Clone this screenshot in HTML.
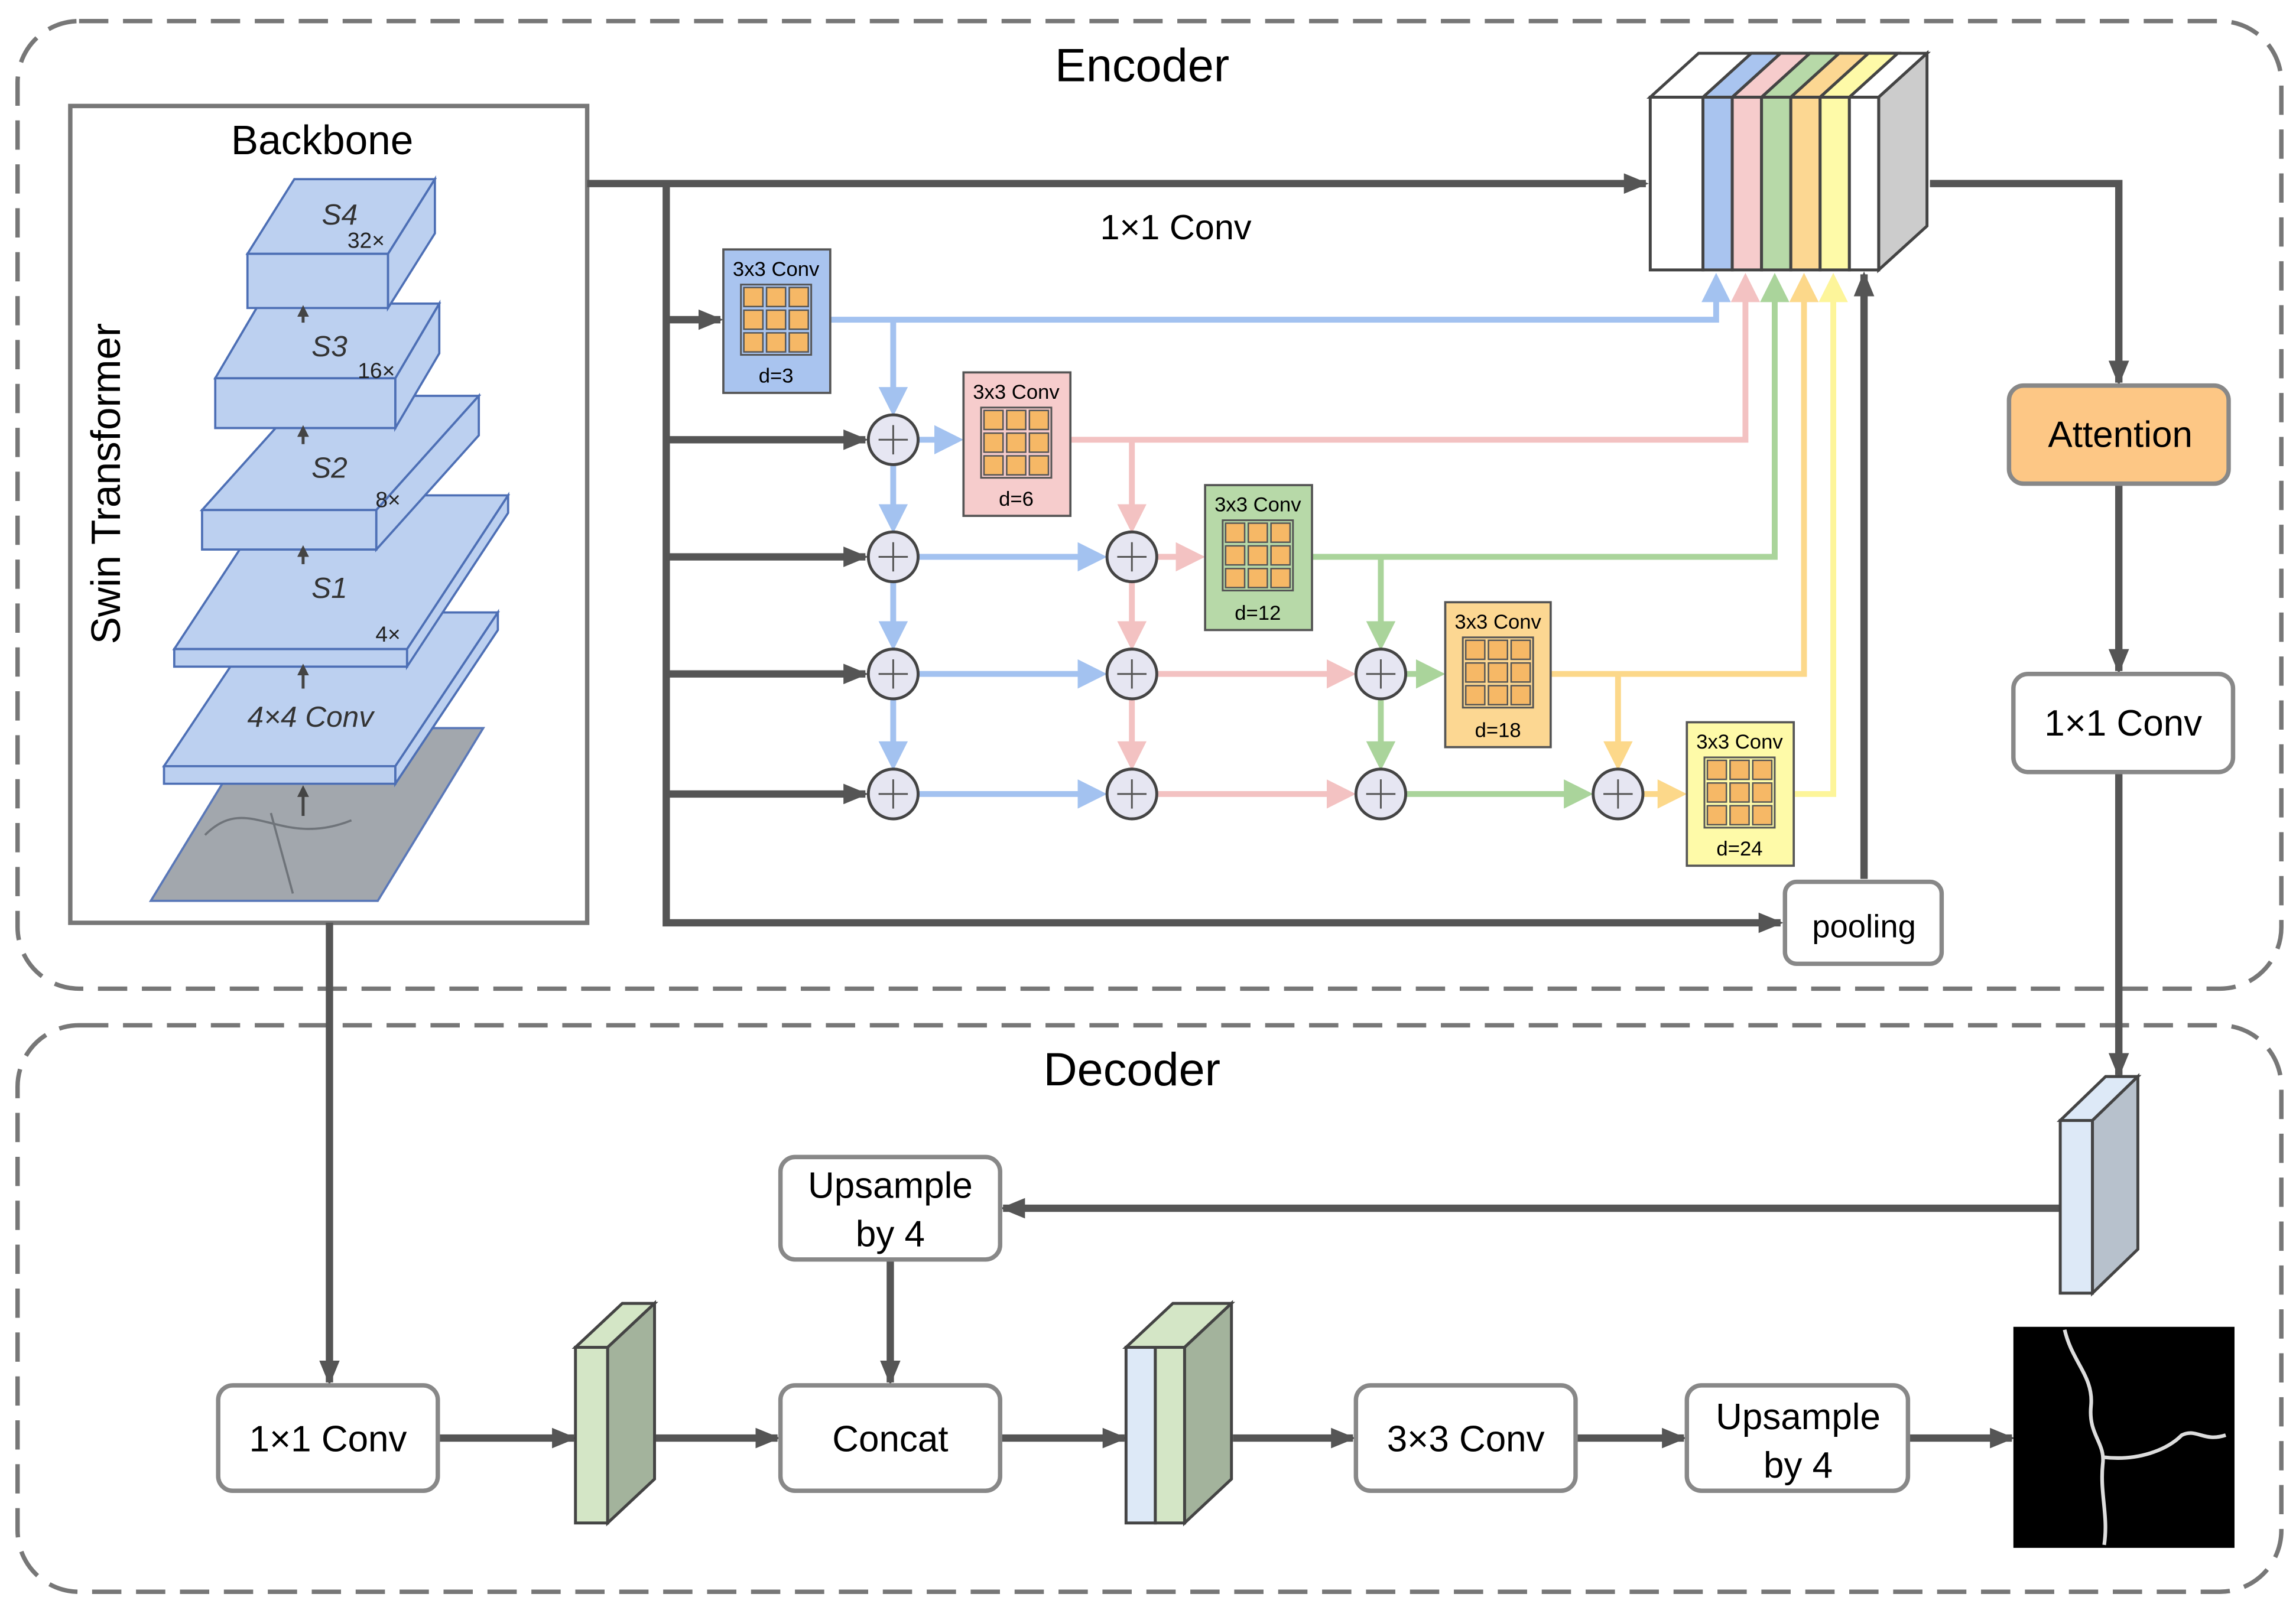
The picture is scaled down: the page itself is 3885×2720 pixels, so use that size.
<!DOCTYPE html>
<html><head><meta charset="utf-8"><style>html,body{margin:0;padding:0;background:#fff}svg{display:block}</style></head>
<body>
<svg width="3885" height="2720" viewBox="0 0 1568 1097" xmlns="http://www.w3.org/2000/svg" font-family="Liberation Sans, Arial, sans-serif">
<defs>
<marker id="ad" markerWidth="17" markerHeight="14" refX="15" refY="7" orient="auto" markerUnits="userSpaceOnUse"><path d="M0,0 L17,7 L0,14 z" fill="#555"/></marker>
<marker id="ab" markerWidth="5" markerHeight="5" refX="4" refY="2.5" orient="auto" markerUnits="strokeWidth"><path d="M0,0 L5,2.5 L0,5 z" fill="#a3c2f0"/></marker>
<marker id="ap" markerWidth="5" markerHeight="5" refX="4" refY="2.5" orient="auto" markerUnits="strokeWidth"><path d="M0,0 L5,2.5 L0,5 z" fill="#f3c2c2"/></marker>
<marker id="ag" markerWidth="5" markerHeight="5" refX="4" refY="2.5" orient="auto" markerUnits="strokeWidth"><path d="M0,0 L5,2.5 L0,5 z" fill="#aad49b"/></marker>
<marker id="ao" markerWidth="5" markerHeight="5" refX="4" refY="2.5" orient="auto" markerUnits="strokeWidth"><path d="M0,0 L5,2.5 L0,5 z" fill="#fcd88a"/></marker>
<marker id="ay" markerWidth="5" markerHeight="5" refX="4" refY="2.5" orient="auto" markerUnits="strokeWidth"><path d="M0,0 L5,2.5 L0,5 z" fill="#fdf59a"/></marker>
<marker id="as" markerWidth="8" markerHeight="8" refX="6" refY="4" orient="auto" markerUnits="userSpaceOnUse"><path d="M0,0 L8,4 L0,8 z" fill="#444"/></marker>
<g id="grid">
<rect x="0" y="0" width="48" height="48" fill="none" stroke="#555" stroke-width="1.2"/>
<g fill="#f6b866" stroke="#555" stroke-width="1">
<rect x="2" y="2" width="13" height="13"/><rect x="17.5" y="2" width="13" height="13"/><rect x="33" y="2" width="13" height="13"/>
<rect x="2" y="17.5" width="13" height="13"/><rect x="17.5" y="17.5" width="13" height="13"/><rect x="33" y="17.5" width="13" height="13"/>
<rect x="2" y="33" width="13" height="13"/><rect x="17.5" y="33" width="13" height="13"/><rect x="33" y="33" width="13" height="13"/>
</g></g>
<g id="circ"><circle cx="0" cy="0" r="17" fill="#e6e6f2" stroke="#444" stroke-width="2"/><path d="M-10,0 H10 M0,-10 V10" stroke="#555" stroke-width="1.2"/></g>
</defs>

<rect x="12" y="14" width="1546" height="661" rx="42" fill="none" stroke="#777" stroke-width="3" stroke-dasharray="20,10"/>
<rect x="12" y="700" width="1546" height="387" rx="42" fill="none" stroke="#777" stroke-width="3" stroke-dasharray="20,10"/>
<text x="780" y="55" font-size="32" text-anchor="middle">Encoder</text>
<text x="773" y="741" font-size="32" text-anchor="middle">Decoder</text>

<rect x="48" y="72" width="353" height="558" fill="#fff" stroke="#777" stroke-width="3"/>
<text x="220" y="105" font-size="28" text-anchor="middle">Backbone</text>
<text transform="translate(82,330) rotate(-90)" font-size="28" text-anchor="middle">Swin Transformer</text>

<polygon points="103,615 258,615 330,497 175,497" fill="#a2a7ad" stroke="#5a78b8" stroke-width="1.5"/>
<path d="M140,570 C170,540 190,580 240,560 M185,555 L200,610" stroke="#6f747a" stroke-width="1.5" fill="none"/>
<g fill="#bcd0f0" stroke="#4d6fb5" stroke-width="1.5">
<polygon points="112,523 270,523 340,418 182,418"/><polygon points="112,523 270,523 270,535 112,535"/><polygon points="270,523 340,418 340,430 270,535"/>
<polygon points="119,443 278,443 347,338 188,338"/><polygon points="119,443 278,443 278,455 119,455"/><polygon points="278,443 347,338 347,350 278,455"/>
<polygon points="138,348 257,348 327,270 208,270"/><polygon points="138,348 257,348 257,375 138,375"/><polygon points="257,348 327,270 327,297 257,375"/>
<polygon points="147,258 270,258 300,207 177,207"/><polygon points="147,258 270,258 270,292 147,292"/><polygon points="270,258 300,207 300,241 270,292"/>
<polygon points="169,173 265,173 297,122 201,122"/><polygon points="169,173 265,173 265,210 169,210"/><polygon points="265,173 297,122 297,159 265,210"/>
</g>
<g font-style="italic" font-size="20" fill="#333" text-anchor="middle">
<text x="212" y="496">4×4 Conv</text><text x="225" y="408">S1</text><text x="225" y="326">S2</text><text x="225" y="243">S3</text><text x="232" y="153">S4</text>
</g>
<g font-size="15" fill="#222" text-anchor="middle"><text x="265" y="438">4×</text><text x="265" y="346">8×</text><text x="257" y="258">16×</text><text x="250" y="169">32×</text></g>
<g stroke="#444" stroke-width="2" marker-end="url(#as)"><line x1="207" y1="557" x2="207" y2="538"/><line x1="207" y1="470" x2="207" y2="455"/><line x1="207" y1="385" x2="207" y2="374"/><line x1="207" y1="303" x2="207" y2="292"/><line x1="207" y1="220" x2="207" y2="210"/></g>

<g stroke="#555" stroke-width="5" fill="none">
<path d="M401,125 H1124" marker-end="url(#ad)"/>
<path d="M455,125 V630 H1216" marker-end="url(#ad)"/>
<path d="M455,218 H492" marker-end="url(#ad)"/>
<path d="M455,300 H591" marker-end="url(#ad)"/>
<path d="M455,380 H591" marker-end="url(#ad)"/>
<path d="M455,460 H591" marker-end="url(#ad)"/>
<path d="M455,542 H591" marker-end="url(#ad)"/>
<path d="M1273,600 V187" marker-end="url(#ad)"/>
<path d="M1318,125 H1447 V261" marker-end="url(#ad)"/>
<path d="M1447,330 V458" marker-end="url(#ad)"/>
<path d="M1447,527 V734" marker-end="url(#ad)"/>
<path d="M1407,825 H685" marker-end="url(#ad)"/>
<path d="M608,860 V944" marker-end="url(#ad)"/>
<path d="M225,630 V944" marker-end="url(#ad)"/>
<path d="M299,982 H392" marker-end="url(#ad)"/>
<path d="M447,982 H531" marker-end="url(#ad)"/>
<path d="M683,982 H768" marker-end="url(#ad)"/>
<path d="M842,982 H924" marker-end="url(#ad)"/>
<path d="M1076,982 H1150" marker-end="url(#ad)"/>
<path d="M1303,982 H1374" marker-end="url(#ad)"/>
</g>
<text x="803" y="163" font-size="24" text-anchor="middle">1×1 Conv</text>

<g stroke-width="4" fill="none">
<g stroke="#a3c2f0" marker-end="url(#ab)">
<path d="M567,218 H1172 V190"/><path d="M610,218 V280"/><path d="M627,300 H654"/>
<path d="M610,317 V360"/><path d="M610,397 V440"/><path d="M610,477 V522"/>
<path d="M627,380 H752"/><path d="M627,460 H752"/><path d="M627,542 H752"/>
</g>
<g stroke="#f3c2c2" marker-end="url(#ap)">
<path d="M731,300 H1192 V190"/><path d="M773,300 V360"/><path d="M790,380 H819"/>
<path d="M773,397 V440"/><path d="M773,477 V522"/><path d="M790,460 H922"/><path d="M790,542 H922"/>
</g>
<g stroke="#aad49b" marker-end="url(#ag)">
<path d="M896,380 H1212 V190"/><path d="M943,380 V440"/><path d="M943,477 V522"/><path d="M960,460 H983"/><path d="M960,542 H1084"/>
</g>
<g stroke="#fcd88a" marker-end="url(#ao)">
<path d="M1059,460 H1232 V190"/><path d="M1105,460 V522"/><path d="M1122,542 H1148"/>
</g>
<g stroke="#fdf59a" marker-end="url(#ay)"><path d="M1225,542 H1252 V190"/></g>
</g>

<use href="#circ" x="610" y="300"/><use href="#circ" x="610" y="380"/><use href="#circ" x="610" y="460"/><use href="#circ" x="610" y="542"/>
<use href="#circ" x="773" y="380"/><use href="#circ" x="773" y="460"/><use href="#circ" x="773" y="542"/>
<use href="#circ" x="943" y="460"/><use href="#circ" x="943" y="542"/>
<use href="#circ" x="1105" y="542"/>

<g stroke="#555" stroke-width="1.5">
<rect x="494" y="170" width="73" height="98" fill="#a9c4ef"/>
<rect x="658" y="254" width="73" height="98" fill="#f6cccc"/>
<rect x="823" y="331" width="73" height="99" fill="#b7d9a8"/>
<rect x="987" y="411" width="72" height="99" fill="#fcd792"/>
<rect x="1152" y="493" width="73" height="98" fill="#fefaa8"/>
</g>
<use href="#grid" x="506" y="194"/><use href="#grid" x="670" y="278"/><use href="#grid" x="835" y="355"/><use href="#grid" x="999" y="435"/><use href="#grid" x="1164" y="517"/>
<g font-size="14" text-anchor="middle">
<text x="530" y="188">3x3 Conv</text><text x="530" y="261">d=3</text>
<text x="694" y="272">3x3 Conv</text><text x="694" y="345">d=6</text>
<text x="859" y="349">3x3 Conv</text><text x="859" y="423">d=12</text>
<text x="1023" y="429">3x3 Conv</text><text x="1023" y="503">d=18</text>
<text x="1188" y="511">3x3 Conv</text><text x="1188" y="584">d=24</text>
</g>

<g stroke="#444" stroke-width="2">
<polygon points="1127,66 1283,66 1316,36 1160,36" fill="#fff"/>
<polygon points="1283,66 1316,36 1316,154 1283,184" fill="#ccc"/>
<rect x="1127" y="66" width="36" height="118" fill="#fff"/>
<rect x="1163" y="66" width="20" height="118" fill="#a9c4ef"/><polygon points="1163,66 1183,66 1216,36 1196,36" fill="#a9c4ef"/>
<rect x="1183" y="66" width="20" height="118" fill="#f6cccc"/><polygon points="1183,66 1203,66 1236,36 1216,36" fill="#f6cccc"/>
<rect x="1203" y="66" width="20" height="118" fill="#b7d9a8"/><polygon points="1203,66 1223,66 1256,36 1236,36" fill="#b7d9a8"/>
<rect x="1223" y="66" width="20" height="118" fill="#fcd792"/><polygon points="1223,66 1243,66 1276,36 1256,36" fill="#fcd792"/>
<rect x="1243" y="66" width="20" height="118" fill="#fefaa8"/><polygon points="1243,66 1263,66 1296,36 1276,36" fill="#fefaa8"/>
<rect x="1263" y="66" width="20" height="118" fill="#fff"/>
</g>

<g stroke="#888" stroke-width="3" fill="#fff">
<rect x="1219" y="602" width="107" height="56" rx="8"/>
<rect x="1372" y="263" width="150" height="67" rx="10" fill="#fdc785"/>
<rect x="1375" y="460" width="150" height="67" rx="10"/>
<rect x="533" y="790" width="150" height="70" rx="10"/>
<rect x="149" y="946" width="150" height="72" rx="10"/>
<rect x="533" y="946" width="150" height="72" rx="10"/>
<rect x="926" y="946" width="150" height="72" rx="10"/>
<rect x="1152" y="946" width="151" height="72" rx="10"/>
</g>
<g font-size="24" text-anchor="middle">
<text x="1273" y="640" font-size="22">pooling</text>
<text x="1448" y="305" font-size="25">Attention</text>
<text x="1450" y="502" font-size="25">1×1 Conv</text>
<text x="608" y="818" font-size="25">Upsample</text><text x="608" y="851" font-size="25">by 4</text>
<text x="224" y="991" font-size="25">1×1 Conv</text>
<text x="608" y="991" font-size="25">Concat</text>
<text x="1001" y="991" font-size="25">3×3 Conv</text>
<text x="1228" y="976" font-size="25">Upsample</text><text x="1228" y="1009" font-size="25">by 4</text>
</g>

<g stroke="#444" stroke-width="2">
<rect x="1407" y="765" width="22" height="118" fill="#dde9f7"/>
<polygon points="1407,765 1429,765 1460,735 1438,735" fill="#dde9f7"/>
<polygon points="1429,765 1460,735 1460,853 1429,883" fill="#b7c1cc"/>
<rect x="393" y="920" width="22" height="120" fill="#d4e6c6"/>
<polygon points="393,920 415,920 447,890 425,890" fill="#d4e6c6"/>
<polygon points="415,920 447,890 447,1010 415,1040" fill="#a3b39c"/>
<rect x="769" y="920" width="20" height="120" fill="#dde9f7"/>
<rect x="789" y="920" width="20" height="120" fill="#d4e6c6"/>
<polygon points="769,920 809,920 841,890 801,890" fill="#d4e6c6"/>
<polygon points="809,920 841,890 841,1010 809,1040" fill="#a3b39c"/>
</g>

<rect x="1375" y="906" width="151" height="151" fill="#000"/>
<path d="M1410,908 C1415,930 1430,940 1428,960 C1426,980 1438,985 1436,1000 C1434,1020 1440,1035 1437,1055 M1436,995 C1460,998 1480,990 1490,980 C1500,975 1505,985 1520,980" stroke="#ddd" stroke-width="2.5" fill="none"/>
</svg>
</body></html>
